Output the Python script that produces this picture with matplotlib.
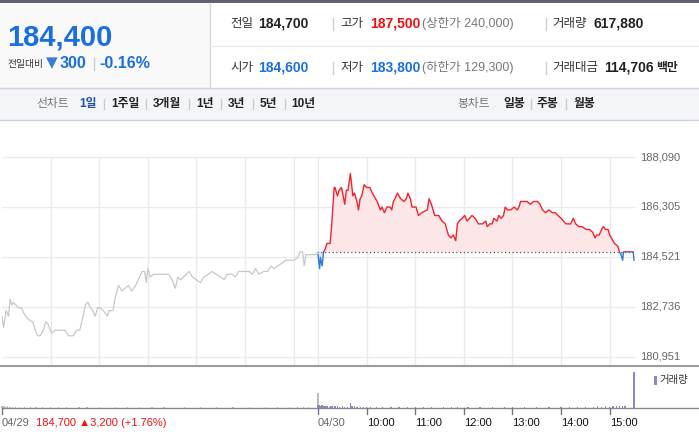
import matplotlib
matplotlib.use("Agg")
import matplotlib.pyplot as plt
from matplotlib.patches import Rectangle
from matplotlib.lines import Line2D

plt.rcParams["font.family"] = ["Liberation Sans", "Noto Sans CJK KR", "DejaVu Sans"]

W, H = 699, 442

# quote header
price_now = 184400
change_abs = 300
change_pct = -0.16
prev_close = 184700
open_price = 184600
high_price = 187500
low_price = 183800
upper_limit = 240000
lower_limit = 129300
volume_total = 617880
value_mil = 114706

prev_day_label = "04/29"
today_label = "04/30"
prev_day_close = 184700
prev_day_change = 3200
prev_day_pct = 1.76

line_periods = ["1일", "1주일", "3개월", "1년", "3년", "5년", "10년"]
candle_periods = ["일봉", "주봉", "월봉"]

y_ticks = [180951, 182736, 184521, 186305, 188090]
hour_labels = ["10:00", "11:00", "12:00", "13:00", "14:00", "15:00"]

# 04/29 intraday (grey line)
prev_times = ["09:00", "09:02", "09:05", "09:08", "09:10", "09:12", "09:14", "09:17", "09:20",
              "09:24", "09:27", "09:32", "09:37", "09:38", "09:41", "09:44", "09:47", "09:51",
              "09:54", "09:57", "10:01", "10:06", "10:12", "10:18", "10:22", "10:28", "10:32",
              "10:36", "10:40", "10:43", "10:46", "10:49", "10:52", "10:55", "10:58", "11:01",
              "11:05", "11:10", "11:12", "11:17", "11:20", "11:24", "11:28", "11:32", "11:36",
              "11:40", "11:45", "11:48", "11:53", "11:56", "11:58", "12:00", "12:03", "12:07",
              "12:16", "12:26", "12:30", "12:34", "12:37", "12:40", "12:44", "12:51", "12:55",
              "13:00", "13:05", "13:09", "13:15", "13:19", "13:24", "13:30", "13:34", "13:38",
              "13:44", "13:48", "13:52", "13:59", "14:05", "14:09", "14:13", "14:17", "14:23",
              "14:28", "14:32", "14:36", "14:40", "14:46", "14:50", "14:54", "15:00", "15:05",
              "15:08", "15:11", "15:13", "15:15", "15:19", "15:27", "15:30"]
prev_prices = [182400, 182000, 182600, 182400, 183000, 182800, 182900, 182800, 182700,
               182700, 182500, 182300, 182200, 182200, 181900, 181700, 181700, 181900,
               182200, 182100, 181800, 181900, 181900, 181900, 181700, 181700, 181900,
               181900, 182400, 182800, 182900, 182700, 182600, 182400, 182700, 182700,
               182600, 182400, 182600, 182600, 183100, 183500, 183300, 183400, 183500,
               183300, 183500, 183700, 184000, 184000, 183600, 184100, 183800, 183900,
               183900, 183900, 183700, 183400, 183800, 183700, 183800, 184000, 183800,
               183700, 183600, 183800, 183900, 184000, 183900, 183800, 183700, 183900,
               183900, 183800, 184000, 184000, 184000, 183900, 184100, 183900, 184000,
               184000, 184200, 184100, 184200, 184300, 184400, 184400, 184400, 184500,
               184700, 184700, 184200, 184600, 184600, 184600, 184700]

# 04/30 intraday (red / blue line)
today_times = ["09:00", "09:02", "09:03", "09:05", "09:07", "09:09", "09:11", "09:13", "09:15",
               "09:17", "09:20", "09:21", "09:24", "09:26", "09:29", "09:31", "09:33", "09:35",
               "09:37", "09:40", "09:43", "09:45", "09:48", "09:50", "09:52", "09:54", "09:57",
               "10:00", "10:04", "10:07", "10:09", "10:13", "10:17", "10:19", "10:22", "10:25",
               "10:29", "10:31", "10:33", "10:35", "10:38", "10:42", "10:46", "10:49", "10:51",
               "10:54", "10:56", "11:01", "11:04", "11:08", "11:15", "11:17", "11:20", "11:24",
               "11:29", "11:33", "11:37", "11:39", "11:41", "11:44", "11:47", "11:50", "11:52",
               "11:54", "11:58", "12:01", "12:04", "12:10", "12:14", "12:18", "12:23", "12:27",
               "12:29", "12:32", "12:35", "12:37", "12:41", "12:43", "12:46", "12:49", "12:51",
               "12:54", "12:58", "13:02", "13:06", "13:08", "13:10", "13:14", "13:18", "13:22",
               "13:26", "13:31", "13:34", "13:37", "13:41", "13:45", "13:49", "13:53", "13:56",
               "14:00", "14:03", "14:06", "14:10", "14:12", "14:15", "14:18", "14:22", "14:26",
               "14:31", "14:35", "14:39", "14:42", "14:44", "14:47", "14:50", "14:52", "14:55",
               "14:58", "15:00", "15:04", "15:06", "15:10", "15:12", "15:14", "15:16", "15:17",
               "15:22", "15:26", "15:29", "15:30"]
today_prices = [184600, 184100, 184500, 184200, 184700, 184800, 185000, 185000, 185000,
                185700, 187000, 187000, 186700, 186900, 187000, 186700, 186400, 186900,
                186900, 187500, 186700, 186800, 186500, 186200, 186600, 186700, 187100,
                187000, 187000, 186800, 186700, 186500, 186200, 186300, 186100, 186300,
                186300, 186200, 186500, 186600, 186800, 186600, 186500, 186600, 186800,
                186600, 186300, 186300, 186000, 186100, 186200, 186600, 186400, 186000,
                186000, 185800, 185700, 185500, 185300, 185200, 185300, 185100, 185700,
                185800, 185900, 186000, 185800, 186000, 185900, 185700, 185700, 185800,
                185600, 185700, 185700, 185900, 185800, 186000, 185900, 186000, 186300,
                186200, 186200, 186300, 186200, 186300, 186500, 186500, 186500, 186400,
                186500, 186500, 186400, 186200, 186100, 186200, 186100, 186100, 186000,
                185900, 185800, 185700, 185700, 185700, 185900, 185700, 185600, 185600,
                185500, 185500, 185400, 185200, 185300, 185300, 185500, 185600, 185500,
                185500, 185300, 185100, 185000, 184900, 184700, 184600, 184400, 184700,
                184700, 184700, 184700, 184400]

prev_vol_times = ["09:00", "09:01", "09:02", "09:03", "09:05", "09:07", "09:10", "09:13", "09:17",
                  "09:22", "09:28", "09:35", "09:42", "09:50", "10:00", "10:10", "10:20", "10:35",
                  "10:45", "11:00", "11:20", "11:35", "11:50", "12:05", "12:20", "12:45", "13:05",
                  "13:25", "13:45", "14:05", "14:25", "14:40", "14:55", "15:05", "15:12", "15:18",
                  "15:30"]
prev_vol = [4000, 3000, 2500, 3500, 2000, 2500, 1800, 2200, 1500,
            1800, 1500, 1700, 1500, 1600, 1500, 1400, 1500, 1600,
            1800, 1400, 1700, 1500, 1800, 1400, 1500, 1300, 1500,
            1400, 1600, 1400, 1500, 1700, 1600, 1800, 2000, 1700,
            24000]

today_vol_times = ["09:00", "09:01", "09:02", "09:03", "09:04", "09:05", "09:06", "09:07", "09:08",
                   "09:10", "09:12", "09:14", "09:16", "09:18", "09:20", "09:22", "09:24", "09:27",
                   "09:30", "09:33", "09:36", "09:40", "09:42", "09:45", "09:48", "09:52", "09:56",
                   "10:00", "10:05", "10:12", "10:20", "10:30", "10:40", "10:50", "11:00", "11:10",
                   "11:20", "11:35", "11:45", "11:52", "12:05", "12:20", "12:35", "12:50", "13:00",
                   "13:15", "13:30", "13:45", "14:00", "14:10", "14:20", "14:30", "14:40", "14:45",
                   "14:50", "14:55", "15:00", "15:04", "15:08", "15:12", "15:16", "15:19", "15:30"]
today_vol = [5500, 4000, 4500, 3500, 3000, 4200, 2800, 3300, 2500,
             3000, 2700, 2400, 3200, 2600, 3600, 2800, 2500, 2300,
             2600, 2200, 2400, 7500, 4000, 3000, 2200, 2000, 1800,
             1700, 1800, 1500, 1600, 1700, 1500, 1600, 1500, 1700,
             1600, 1800, 1700, 2000, 1500, 1500, 1400, 1800, 1500,
             1500, 1400, 1600, 1500, 1700, 1600, 1800, 2000, 2500,
             2200, 2800, 2400, 3000, 2600, 3500, 4000, 3000, 60000]

RED = "#f5222d"
BLUE = "#1a6fe0"
GREY_LINE = "#c5c7cc"
PURPLE = "#8e84c8"


def to_x(t, day):
    h, m = t.split(":")
    return day * 390 + (int(h) - 9) * 60 + int(m)


def fx(x):
    return x / W


def fy(y):
    return 1 - y / H


def ftext(x, y, s, **kw):
    kw.setdefault("va", "center")
    kw.setdefault("ha", "left")
    fig.text(fx(x), fy(y), s, **kw)


def fline(x0, x1, y0, y1, color, lw=1.0):
    fig.add_artist(Line2D([fx(x0), fx(x1)], [fy(y0), fy(y1)], color=color, lw=lw,
                          transform=fig.transFigure))


def frect(x, y, w, h, color):
    fig.add_artist(Rectangle((fx(x), fy(y + h)), w / W, h / H, color=color, lw=0,
                             transform=fig.transFigure, zorder=0))


fig = plt.figure(figsize=(W / 100, H / 100), dpi=100)

# ---- header ----
frect(0, 3, 210, 85, "#f9f9f9")
frect(0, 88, W, 32, "#f4f5f8")
frect(0, 0, W, 3, "#5d626c")
fline(210, 210, 3, 88, "#d8d8d8")
fline(210, W, 46, 46, "#ececec")
fline(0, W, 88, 88, "#cfd2d8")
fline(0, W, 120, 120, "#cfd2d8")

ftext(7, 37, f"{price_now:,}", fontsize=21, color=BLUE, fontweight="bold")
ftext(8, 64, "전일대비", fontsize=7, color="#333333")
ftext(46, 63, "▼", fontsize=11, color="#3a7bd5", family=["DejaVu Sans"])
ftext(60, 64, f"{change_abs}", fontsize=11.5, color=BLUE, fontweight="bold")
fline(94, 94, 58, 70, "#cccccc")
ftext(99, 64, f"{change_pct:.2f}%", fontsize=11.5, color=BLUE, fontweight="bold")

rows = [
    (24, [("전일", prev_close, "#222222"), ("고가", high_price, "#f00f0f"),
          ("거래량", volume_total, "#222222")], f"(상한가 {upper_limit:,})"),
    (68, [("시가", open_price, BLUE), ("저가", low_price, BLUE),
          ("거래대금", value_mil, "#222222")], f"(하한가 {lower_limit:,})"),
]
for y, cells, limit_txt in rows:
    (l1, v1, c1), (l2, v2, c2), (l3, v3, c3) = cells
    ftext(230, y, l1, fontsize=9, color="#333333")
    ftext(258, y, f"{v1:,}", fontsize=10, color=c1, fontweight="bold")
    fline(333, 333, y - 6, y + 6, "#d0d0d0")
    ftext(340, y, l2, fontsize=9, color="#333333")
    ftext(370, y, f"{v2:,}", fontsize=10, color=c2, fontweight="bold")
    ftext(422, y, limit_txt, fontsize=9, color="#777777")
    fline(546, 546, y - 6, y + 6, "#d0d0d0")
    ftext(552, y, l3, fontsize=9, color="#333333")
    vx = 593 if l3 == "거래량" else 604
    ftext(vx, y, f"{v3:,}", fontsize=10, color=c3, fontweight="bold")
ftext(656, 68, "백만", fontsize=8.5, color="#222222", fontweight="bold")

# tabs
ftext(36, 104, "선차트", fontsize=8.5, color="#777777")
tab_x = [79, 111, 153, 196, 228, 260, 291]
for i, (lab, x) in enumerate(zip(line_periods, tab_x)):
    col = "#2051a8" if i == 0 else "#222222"
    ftext(x, 104, lab, fontsize=8.5, color=col, fontweight="bold")
for sx in [104, 146, 189, 221, 253, 285]:
    fline(sx, sx, 99, 109, "#cccccc")
ftext(457, 104, "봉차트", fontsize=8.5, color="#777777")
for lab, x in zip(candle_periods, [503, 537, 573]):
    ftext(x, 104, lab, fontsize=8.5, color="#222222", fontweight="bold")
for sx in [531, 566]:
    fline(sx, sx, 99, 109, "#cccccc")

# ---- price panel ----
ax = fig.add_axes([fx(2), fy(366), 632 / W, 209 / H])
ax.set_xlim(0, 780)
ax.set_ylim(180620, 188090)
for s in ax.spines.values():
    s.set_visible(False)
ax.set_xticks([])
ax.set_yticks([])

grid_x = [to_x(h, 0) for h in hour_labels] + [390] + [to_x(h, 1) for h in hour_labels]
for gx in grid_x:
    ax.axvline(gx, color="#ebebeb", lw=1, zorder=0)
for yt in y_ticks:
    ax.axhline(yt, color="#ebebeb", lw=1, zorder=0, clip_on=False)
    ax.text(1.0095, yt, f"{yt:,}", transform=ax.get_yaxis_transform(), fontsize=8,
            color="#666666", va="center", ha="left")

px = [to_x(t, 0) for t in prev_times]
ax.plot(px, prev_prices, color=GREY_LINE, lw=0.9, zorder=3)

tx = [to_x(t, 1) for t in today_times]
ax.fill_between(tx, today_prices, prev_close,
                where=[p >= prev_close for p in today_prices], interpolate=True,
                color="#fde6e8", lw=0, zorder=1)
ax.fill_between(tx, today_prices, prev_close,
                where=[p <= prev_close for p in today_prices], interpolate=True,
                color="#dce8fa", lw=0, zorder=1)
ax.hlines(prev_close, 389, 780, colors="#555555", linestyles=(0, (1, 2)), lw=0.9, zorder=2)

up_clip = Rectangle((0, prev_close), 800, 10000, transform=ax.transData)
dn_clip = Rectangle((0, prev_close - 10000), 800, 10000, transform=ax.transData)
red_line, = ax.plot(tx, today_prices, color=RED, lw=1.0, zorder=4)
red_line.set_clip_path(up_clip)
blue_line, = ax.plot(tx, today_prices, color="#2f78de", lw=1.0, zorder=4)
blue_line.set_clip_path(dn_clip)

# ---- volume panel ----
vax = fig.add_axes([fx(2), fy(408), 632 / W, 40 / H])
vax.set_xlim(0, 780)
vax.set_ylim(0, 66000)
for s in vax.spines.values():
    s.set_visible(False)
vax.set_xticks([])
vax.set_yticks([])
pb = vax.bar([to_x(t, 0) for t in prev_vol_times], prev_vol, width=1.5,
             color="#bdbdbd", lw=0)
tb = vax.bar([to_x(t, 1) for t in today_vol_times], today_vol, width=1.5,
             color=PURPLE, lw=0)
for b in list(pb) + list(tb):
    b.set_clip_on(False)

frect(654, 376, 3, 9, PURPLE)
ftext(659, 380, "거래량", fontsize=7.5, color="#333333")

fline(0, W, 366, 366, "#9c9c9c", lw=1.5)
fline(2, W, 408, 408, "#8a8a8a", lw=1.0)

tick_px = [2, 318] + [2 + to_x(h, 1) * 632 / 780 for h in hour_labels]
for t in tick_px:
    fline(t, t, 408, 414, "#777777")

ftext(2, 423, prev_day_label, fontsize=8, color="#666666")
ftext(36, 423, f"{prev_day_close:,} ▲{prev_day_change:,} (+{prev_day_pct:.2f}%)",
      fontsize=8, color="#f01010")
ftext(318, 423, today_label, fontsize=8, color="#666666")
for h, t in zip(hour_labels, tick_px[2:]):
    ftext(t, 423, h, fontsize=8, color="#111111")

fig.savefig("out.png", dpi=100)
